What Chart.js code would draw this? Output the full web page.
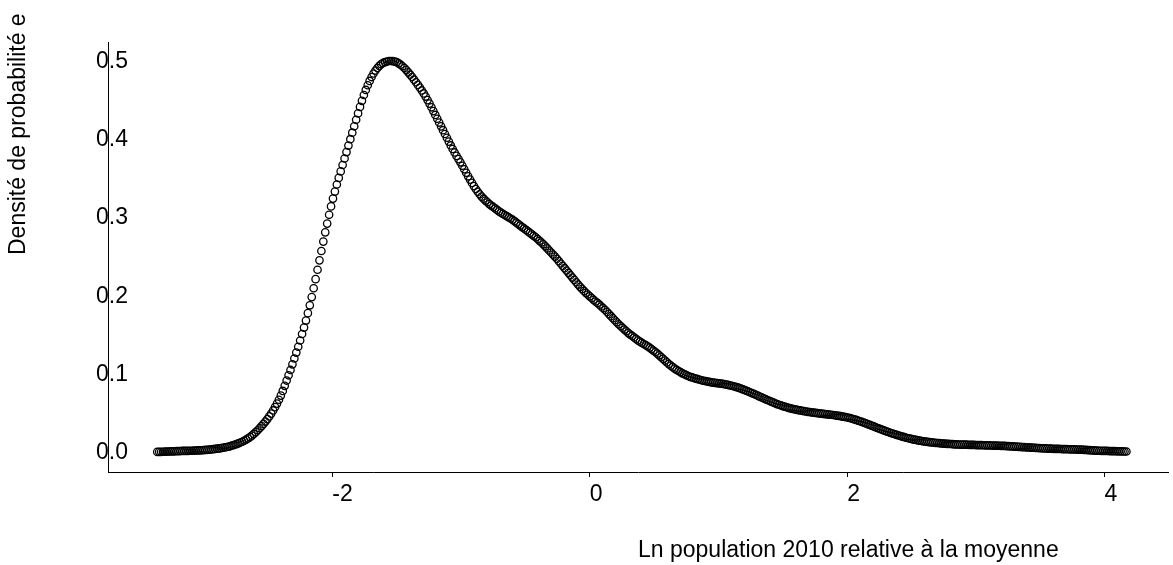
<!DOCTYPE html>
<html><head><meta charset="utf-8">
<script src="https://cdn.jsdelivr.net/npm/chart.js@4"></script>
<style>html,body{margin:0;padding:0;background:#fff;}#wrap{width:1173px;height:565px;}</style>
</head><body><div id="wrap"><canvas id="c" width="1173" height="565"></canvas></div>
<script>
const xTitle = 'Ln population 2010 relative à la moyenne';
const yTitle = 'Densité de probabilité e';
const xTicks = [-2, 0, 2, 4];
const yTicks = [0, 0.1, 0.2, 0.3, 0.4, 0.5];
const xValues = [
-3.36,-3.345,-3.33,-3.315,-3.30,-3.285,-3.27,-3.255,-3.24,-3.225,
-3.21,-3.195,-3.18,-3.165,-3.15,-3.135,-3.12,-3.105,-3.09,-3.075,
-3.06,-3.045,-3.03,-3.015,-3.00,-2.985,-2.97,-2.955,-2.94,-2.925,
-2.91,-2.895,-2.88,-2.865,-2.85,-2.835,-2.82,-2.805,-2.79,-2.775,
-2.76,-2.745,-2.73,-2.715,-2.70,-2.685,-2.67,-2.655,-2.64,-2.625,
-2.61,-2.595,-2.58,-2.565,-2.55,-2.535,-2.52,-2.505,-2.49,-2.475,
-2.46,-2.445,-2.43,-2.415,-2.40,-2.385,-2.37,-2.355,-2.34,-2.325,
-2.31,-2.295,-2.28,-2.265,-2.25,-2.235,-2.22,-2.205,-2.19,-2.175,
-2.16,-2.145,-2.13,-2.115,-2.10,-2.085,-2.07,-2.055,-2.04,-2.025,
-2.01,-1.995,-1.98,-1.965,-1.95,-1.935,-1.92,-1.905,-1.89,-1.875,
-1.86,-1.845,-1.83,-1.815,-1.80,-1.785,-1.77,-1.755,-1.74,-1.725,
-1.71,-1.695,-1.68,-1.665,-1.65,-1.635,-1.62,-1.605,-1.59,-1.575,
-1.56,-1.545,-1.53,-1.515,-1.50,-1.485,-1.47,-1.455,-1.44,-1.425,
-1.41,-1.395,-1.38,-1.365,-1.35,-1.335,-1.32,-1.305,-1.29,-1.275,
-1.26,-1.245,-1.23,-1.215,-1.20,-1.185,-1.17,-1.155,-1.14,-1.125,
-1.11,-1.095,-1.08,-1.065,-1.05,-1.035,-1.02,-1.005,-0.99,-0.975,
-0.96,-0.945,-0.93,-0.915,-0.90,-0.885,-0.87,-0.855,-0.84,-0.825,
-0.81,-0.795,-0.78,-0.765,-0.75,-0.735,-0.72,-0.705,-0.69,-0.675,
-0.66,-0.645,-0.63,-0.615,-0.60,-0.585,-0.57,-0.555,-0.54,-0.525,
-0.51,-0.495,-0.48,-0.465,-0.45,-0.435,-0.42,-0.405,-0.39,-0.375,
-0.36,-0.345,-0.33,-0.315,-0.30,-0.285,-0.27,-0.255,-0.24,-0.225,
-0.21,-0.195,-0.18,-0.165,-0.15,-0.135,-0.12,-0.105,-0.09,-0.075,
-0.06,-0.045,-0.03,-0.015,0.00,0.015,0.03,0.045,0.06,0.075,
0.09,0.105,0.12,0.135,0.15,0.165,0.18,0.195,0.21,0.225,
0.24,0.255,0.27,0.285,0.30,0.315,0.33,0.345,0.36,0.375,
0.39,0.405,0.42,0.435,0.45,0.465,0.48,0.495,0.51,0.525,
0.54,0.555,0.57,0.585,0.60,0.615,0.63,0.645,0.66,0.675,
0.69,0.705,0.72,0.735,0.75,0.765,0.78,0.795,0.81,0.825,
0.84,0.855,0.87,0.885,0.90,0.915,0.93,0.945,0.96,0.975,
0.99,1.005,1.02,1.035,1.05,1.065,1.08,1.095,1.11,1.125,
1.14,1.155,1.17,1.185,1.20,1.215,1.23,1.245,1.26,1.275,
1.29,1.305,1.32,1.335,1.35,1.365,1.38,1.395,1.41,1.425,
1.44,1.455,1.47,1.485,1.50,1.515,1.53,1.545,1.56,1.575,
1.59,1.605,1.62,1.635,1.65,1.665,1.68,1.695,1.71,1.725,
1.74,1.755,1.77,1.785,1.80,1.815,1.83,1.845,1.86,1.875,
1.89,1.905,1.92,1.935,1.95,1.965,1.98,1.995,2.01,2.025,
2.04,2.055,2.07,2.085,2.10,2.115,2.13,2.145,2.16,2.175,
2.19,2.205,2.22,2.235,2.25,2.265,2.28,2.295,2.31,2.325,
2.34,2.355,2.37,2.385,2.40,2.415,2.43,2.445,2.46,2.475,
2.49,2.505,2.52,2.535,2.55,2.565,2.58,2.595,2.61,2.625,
2.64,2.655,2.67,2.685,2.70,2.715,2.73,2.745,2.76,2.775,
2.79,2.805,2.82,2.835,2.85,2.865,2.88,2.895,2.91,2.925,
2.94,2.955,2.97,2.985,3.00,3.015,3.03,3.045,3.06,3.075,
3.09,3.105,3.12,3.135,3.15,3.165,3.18,3.195,3.21,3.225,
3.24,3.255,3.27,3.285,3.30,3.315,3.33,3.345,3.36,3.375,
3.39,3.405,3.42,3.435,3.45,3.465,3.48,3.495,3.51,3.525,
3.54,3.555,3.57,3.585,3.60,3.615,3.63,3.645,3.66,3.675,
3.69,3.705,3.72,3.735,3.75,3.765,3.78,3.795,3.81,3.825,
3.84,3.855,3.87,3.885,3.90,3.915,3.93,3.945,3.96,3.975,
3.99,4.005,4.02,4.035,4.05,4.065,4.08,4.095,4.11,4.125,
4.14,4.155,4.17
];
const densityValues = [
.0010,.0011,.0011,.0012,.0013,.0014,.0015,.0016,.0017,.0018,
.0019,.0020,.0021,.0022,.0022,.0023,.0024,.0025,.0025,.0026,
.0028,.0029,.0030,.0031,.0033,.0035,.0037,.0040,.0042,.0045,
.0048,.0051,.0055,.0059,.0063,.0068,.0073,.0078,.0085,.0093,
.0101,.0110,.0120,.0130,.0140,.0153,.0168,.0183,.0200,.0219,
.0240,.0263,.0287,.0313,.0340,.0368,.0398,.0430,.0464,.0500,
.0540,.0583,.0628,.0677,.0730,.0790,.0855,.0923,.0990,.1058,
.1130,.1205,.1280,.1355,.1435,.1518,.1600,.1690,.1785,.1885,
.1990,.2103,.2220,.2340,.2460,.2580,.2700,.2818,.2930,.3043,
.3150,.3250,.3340,.3430,.3515,.3598,.3680,.3763,.3845,.3928,
.4010,.4093,.4175,.4258,.4340,.4423,.4500,.4575,.4640,.4700,
.4755,.4805,.4850,.4888,.4920,.4948,.4970,.4985,.4995,.5003,
.5010,.5010,.5008,.5002,.4995,.4980,.4963,.4943,.4920,.4894,
.4865,.4835,.4805,.4771,.4738,.4704,.4670,.4633,.4595,.4555,
.4510,.4465,.4418,.4369,.4320,.4271,.4223,.4174,.4125,.4076,
.4028,.3979,.3930,.3885,.3840,.3796,.3755,.3714,.3670,.3625,
.3580,.3535,.3493,.3451,.3410,.3373,.3338,.3305,.3275,.3249,
.3225,.3203,.3180,.3161,.3143,.3124,.3105,.3086,.3070,.3055,
.3040,.3025,.3010,.2995,.2980,.2961,.2943,.2924,.2905,.2886,
.2868,.2849,.2830,.2811,.2793,.2774,.2755,.2733,.2710,.2688,
.2665,.2639,.2613,.2586,.2560,.2534,.2508,.2480,.2450,.2420,
.2390,.2360,.2330,.2300,.2270,.2240,.2210,.2180,.2150,.2121,
.2095,.2069,.2045,.2023,.2000,.1978,.1955,.1934,.1915,.1893,
.1870,.1848,.1825,.1799,.1773,.1746,.1720,.1694,.1668,.1643,
.1620,.1598,.1575,.1553,.1530,.1511,.1493,.1474,.1455,.1436,
.1420,.1405,.1390,.1375,.1360,.1344,.1325,.1306,.1288,.1268,
.1245,.1223,.1200,.1178,.1155,.1133,.1113,.1094,.1075,.1060,
.1045,.1030,.1015,.1004,.0993,.0981,.0970,.0963,.0955,.0948,
.0940,.0933,.0926,.0920,.0915,.0910,.0905,.0900,.0896,.0893,
.0890,.0887,.0883,.0879,.0875,.0870,.0865,.0859,.0853,.0846,
.0838,.0831,.0822,.0813,.0803,.0793,.0783,.0773,.0762,.0752,
.0741,.0729,.0718,.0707,.0696,.0685,.0674,.0664,.0653,.0643,
.0632,.0622,.0613,.0604,.0596,.0589,.0581,.0574,.0567,.0561,
.0555,.0550,.0545,.0540,.0536,.0531,.0527,.0523,.0520,.0516,
.0512,.0509,.0506,.0503,.0500,.0497,.0494,.0491,.0488,.0485,
.0482,.0479,.0475,.0471,.0467,.0462,.0458,.0453,.0447,.0441,
.0434,.0427,.0419,.0410,.0402,.0393,.0384,.0375,.0365,.0355,
.0346,.0336,.0326,.0316,.0307,.0297,.0288,.0279,.0270,.0261,
.0252,.0244,.0236,.0228,.0220,.0213,.0205,.0198,.0191,.0185,
.0179,.0173,.0168,.0163,.0158,.0154,.0149,.0145,.0142,.0138,
.0135,.0132,.0129,.0126,.0124,.0122,.0120,.0117,.0115,.0113,
.0112,.0111,.0109,.0107,.0106,.0105,.0104,.0103,.0103,.0102,
.0101,.0100,.0100,.0099,.0098,.0097,.0097,.0096,.0095,.0094,
.0094,.0093,.0092,.0091,.0091,.0090,.0089,.0088,.0087,.0086,
.0084,.0083,.0081,.0080,.0078,.0077,.0075,.0074,.0072,.0071,
.0069,.0068,.0066,.0065,.0063,.0062,.0060,.0059,.0057,.0055,
.0054,.0053,.0052,.0051,.0050,.0049,.0049,.0048,.0047,.0046,
.0046,.0045,.0044,.0043,.0043,.0042,.0041,.0040,.0039,.0038,
.0036,.0035,.0033,.0032,.0030,.0029,.0027,.0026,.0025,.0024,
.0024,.0023,.0022,.0021,.0020,.0020,.0019,.0018,.0018,.0017,
.0016,.0015,.0015
];

const FONT_FAMILY = '"Liberation Sans", Arial, Helvetica, sans-serif';
const FONT_SIZE = 23;

const titlesPlugin = {
  id: 'axisTitles',
  afterDraw(chart) {
    const { ctx, chartArea: a } = chart;
    ctx.save();
    ctx.fillStyle = '#000';
    ctx.font = FONT_SIZE + 'px ' + FONT_FAMILY;
    ctx.textBaseline = 'middle';
    ctx.textAlign = 'left';
    ctx.fillText(xTitle, (a.left + a.right) / 2, 551);
    ctx.translate(19, (a.top + a.bottom) / 2 - 2);
    ctx.rotate(-Math.PI / 2);
    ctx.fillText(yTitle, 0, 0);
    ctx.restore();
  }
};

new Chart(document.getElementById('c'), {
  type: 'scatter',
  data: {
    datasets: [{
      data: xValues.map((x, i) => ({ x: x, y: densityValues[i] })),
      pointStyle: 'circle',
      pointRadius: 3.7,
      pointBorderWidth: 1.3,
      borderColor: '#000',
      backgroundColor: 'rgba(0,0,0,0)',
      pointHoverRadius: 3.7
    }]
  },
  options: {
    responsive: false,
    devicePixelRatio: 1,
    animation: false,
    events: [],
    layout: { padding: { left: 0, right: 0, top: 42, bottom: 0 } },
    plugins: { legend: { display: false }, tooltip: { enabled: false }, title: { display: false } },
    scales: {
      x: {
        type: 'linear',
        min: -3.743,
        max: 4.493,
        afterBuildTicks: s => { s.ticks = xTicks.map(v => ({ value: v })); },
        afterFit: s => { s.height = 93; },
        grid: { display: true, drawOnChartArea: false, drawTicks: true, tickLength: 5, color: '#000', lineWidth: 1 },
        border: { display: true, color: '#000', width: 1 },
        ticks: {
          align: 'start',
          padding: 4,
          color: '#000',
          font: { family: FONT_FAMILY, size: FONT_SIZE },
          callback: v => String(v),
          maxRotation: 0,
          autoSkip: false
        }
      },
      y: {
        type: 'linear',
        min: -0.0247,
        max: 0.5253,
        afterBuildTicks: s => { s.ticks = yTicks.map(v => ({ value: v })); },
        afterFit: s => { s.width = 108; },
        grid: { display: false, drawTicks: false },
        border: { display: true, color: '#000', width: 1 },
        ticks: {
          mirror: true,
          padding: -12,
          color: '#000',
          font: { family: FONT_FAMILY, size: FONT_SIZE },
          callback: v => Number(v).toFixed(1),
          autoSkip: false
        }
      }
    }
  },
  plugins: [titlesPlugin]
});
</script>
</body></html>
